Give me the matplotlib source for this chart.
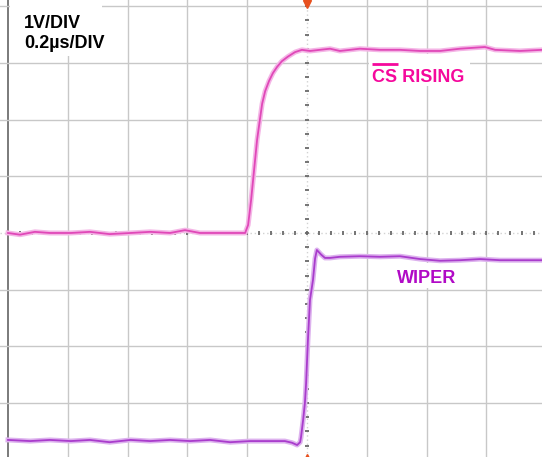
import numpy as np
import matplotlib
matplotlib.use("Agg")
import matplotlib.pyplot as plt
from matplotlib.patches import Rectangle

plt.rcParams['font.family'] = ['Liberation Sans', 'DejaVu Sans']

# CS rising trace (time in us, volts)
cs_t = [-1.000, -0.960, -0.910, -0.860, -0.790, -0.726, -0.660, -0.590, -0.525, -0.458,
        -0.408, -0.358, -0.290, -0.224, -0.207, -0.197, -0.187, -0.177, -0.167, -0.157,
        -0.150, -0.140, -0.127, -0.114, -0.100, -0.084, -0.064, -0.040, -0.017, 0.010,
        0.043, 0.077, 0.110, 0.144, 0.177, 0.244, 0.311, 0.378, 0.445, 0.512, 0.595,
        0.629, 0.712, 0.786]
cs_v = [0.00, -0.03, 0.02, 0.00, 0.00, 0.02, -0.02, 0.00, 0.02, 0.00,
        0.05, 0.00, 0.00, 0.00, 0.00, 0.14, 0.58, 1.11, 1.64, 2.02,
        2.28, 2.50, 2.68, 2.82, 2.93, 3.03, 3.11, 3.19, 3.23, 3.21,
        3.23, 3.25, 3.21, 3.23, 3.25, 3.23, 3.23, 3.21, 3.21, 3.25, 3.28,
        3.23, 3.21, 3.23]

# wiper trace
wp_t = [-1.000, -0.926, -0.860, -0.790, -0.726, -0.660, -0.590, -0.525, -0.458, -0.391,
        -0.324, -0.257, -0.190, -0.124, -0.074, -0.050, -0.033, -0.023, -0.020, -0.013,
        -0.007, -0.003, 0.003, 0.010, 0.020, 0.027, 0.033, 0.047, 0.060, 0.077,
        0.110, 0.177, 0.244, 0.311, 0.378, 0.445, 0.512, 0.579, 0.645, 0.712, 0.786]
wp_v = [-3.65, -3.67, -3.65, -3.67, -3.65, -3.69, -3.65, -3.67, -3.65, -3.67,
        -3.65, -3.69, -3.67, -3.67, -3.67, -3.70, -3.74, -3.69, -3.60, -3.30,
        -3.00, -2.65, -1.90, -1.18, -0.83, -0.45, -0.30, -0.38, -0.44, -0.44,
        -0.42, -0.41, -0.42, -0.41, -0.46, -0.49, -0.48, -0.46, -0.48, -0.48, -0.48]

us_per_div = 0.2
v_per_div = 1.0

W, H = 542, 457
fig = plt.figure(figsize=(W / 100, H / 100), dpi=100)
ax = fig.add_axes([0, 0, 1, 1])
ax.set_xlim(-1.0268, 0.786)
ax.set_ylim(-3.951, 4.109)
ax.axis('off')

def fx(px):
    return px / W

def fy(py):
    return 1 - py / H

# graticule
for k in range(-5, 6):
    t = k * us_per_div
    if k == 0:
        continue
    ax.axvline(t, color='#7a7a7a' if k == -5 else '#c8c8c8', lw=1.4 if k == -5 else 1.0, zorder=1)
for k in range(-4, 5):
    if k == 0:
        continue
    ax.axhline(k * v_per_div, color='#c8c8c8', lw=1.0, zorder=1)

# centre axes with minor ticks
ax.axhline(0, color='#d2d2d2', lw=1.0, ls=(0, (1, 2)), zorder=1)
ax.axvline(0, color='#d2d2d2', lw=1.0, ls=(0, (1, 2)), zorder=1)
ht = np.arange(-25, 26) * us_per_div / 5
ax.plot(ht, np.zeros_like(ht), ls='none', marker='|', ms=3.5, mew=1.3, color='#6a6a6a', zorder=1.5)
vt = np.arange(-16, 17) * v_per_div / 4
ax.plot(np.zeros_like(vt), vt, ls='none', marker='_', ms=3.5, mew=1.3, color='#6a6a6a', zorder=1.5)

# trigger markers
ax.plot([0], [4.04], marker='v', ms=6, color='#e8501e', ls='none', zorder=5, clip_on=False)
ax.plot([0], [-3.97], marker='^', ms=6, color='#e8501e', ls='none', zorder=5, clip_on=True)

# white label boxes
for (x0, y0, x1, y1) in [(10, 0, 102, 56), (369, 54, 470, 86), (392, 263, 460, 288)]:
    ax.add_patch(Rectangle((fx(x0), fy(y1)), fx(x1) - fx(x0), fy(y0) - fy(y1),
                           transform=fig.transFigure, facecolor='white',
                           edgecolor='none', zorder=2))

# traces
ax.plot(cs_t, cs_v, color='#f4b6e6', lw=3.6, solid_joinstyle='round', zorder=3)
ax.plot(cs_t, cs_v, color='#e048b8', lw=1.3, solid_joinstyle='round', zorder=3.1)
ax.plot(wp_t, wp_v, color='#ddb2ee', lw=3.6, solid_joinstyle='round', zorder=3)
ax.plot(wp_t, wp_v, color='#a93ccc', lw=1.3, solid_joinstyle='round', zorder=3.1)

# labels
fig.text(fx(24), fy(28), '1V/DIV', fontsize=13, fontweight='bold', color='black',
         ha='left', va='baseline', zorder=6)
fig.text(fx(24), fy(48), '0.2\u00b5s/DIV', fontsize=13, fontweight='bold', color='black',
         ha='left', va='baseline', zorder=6)
fig.text(fx(372), fy(82), 'CS RISING', fontsize=13, fontweight='bold', color='#f5089c',
         ha='left', va='baseline', zorder=6)
ax.plot([fx(372), fx(398)], [fy(63.5), fy(63.5)], transform=fig.transFigure,
        color='#f5089c', lw=2.0, solid_capstyle='butt', zorder=6)
fig.text(fx(397), fy(283), 'WIPER', fontsize=13, fontweight='bold', color='#b10ac6',
         ha='left', va='baseline', zorder=6)

fig.savefig('out.png', dpi=100, facecolor='white')
